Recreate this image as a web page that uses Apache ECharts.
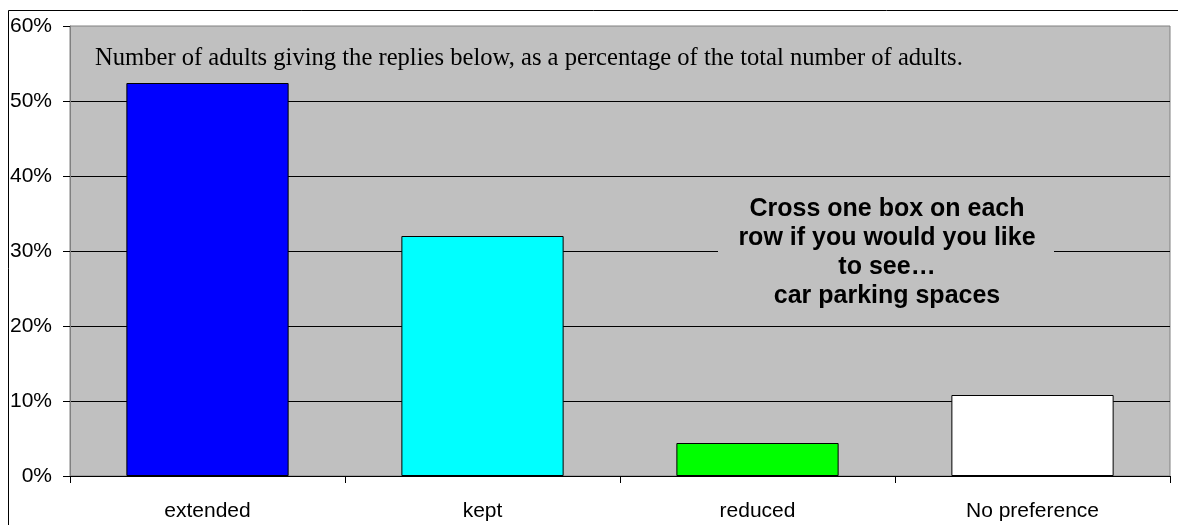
<!DOCTYPE html>
<html>
<head>
<meta charset="utf-8">
<script src="https://cdn.jsdelivr.net/npm/echarts@6/dist/echarts.min.js"></script>
<style>
  html, body { margin: 0; padding: 0; background: #fff; }
  #main { width: 1178px; height: 525px; }
</style>
</head>
<body>
<div id="main"></div>
<script>
const categories = ['extended', 'kept', 'reduced', 'No preference']
const values = [52.4, 32.0, 4.4, 10.8]
const barColors = ['#0000FF', '#00FFFF', '#00FF00', '#FFFFFF']
const yTicks = [0, 10, 20, 30, 40, 50, 60]

const noteText = 'Number of adults giving the replies below, as a percentage of the total number of adults.'
const boxText = 'Cross one box on each\nrow if you would you like\nto see…\ncar parking spaces'

var chart = echarts.init(document.getElementById('main'))
var option = {
  animation: false,
  backgroundColor: '#fff',
  grid: {
    left: 70, right: 8, top: 26, bottom: 49,
    show: true,
    backgroundColor: '#C0C0C0',
    borderColor: '#808080',
    borderWidth: 1
  },
  xAxis: {
    type: 'category',
    data: categories,
    axisLine: { lineStyle: { color: '#000', width: 1 } },
    axisTick: { show: true, alignWithLabel: false, length: 7, lineStyle: { color: '#000' } },
    axisLabel: {
      color: '#000', fontFamily: 'Liberation Sans, Arial', fontSize: 21, margin: 25
    }
  },
  yAxis: {
    type: 'value',
    min: yTicks[0],
    max: yTicks[yTicks.length - 1],
    interval: 10,
    axisLine: { show: true, lineStyle: { color: '#808080' } },
    axisTick: { show: true, length: 7, lineStyle: { color: '#000' } },
    axisLabel: {
      color: '#000', fontFamily: 'Liberation Sans, Arial', fontSize: 21, margin: 18,
      formatter: v => v + '%'
    },
    splitLine: {
      show: true,
      lineStyle: { color: '#000', width: 1 },
      showMaxLine: false
    }
  },
  series: [{
    type: 'bar',
    barWidth: '59%',
    data: values.map((v, i) => ({
      value: v,
      itemStyle: { color: barColors[i], borderColor: '#000', borderWidth: 1 }
    }))
  }],
  graphic: [
    {
      type: 'rect',
      shape: { x: 0, y: 0, width: 1200, height: 540 },
      left: 6, top: 8,
      style: { fill: 'none', stroke: '#000', lineWidth: 1 },
      silent: true
    },
    {
      type: 'text',
      left: 95, top: 46,
      style: {
        text: noteText,
        fill: '#000',
        font: '24.6px "Liberation Serif", "Times New Roman", serif'
      }
    },
    {
      type: 'rect',
      shape: { x: 718, y: 195, width: 336, height: 114 },
      style: { fill: '#C0C0C0' },
      z: 10
    },
    {
      type: 'text',
      x: 887, y: 195,
      z: 11,
      style: {
        text: boxText,
        fill: '#000',
        align: 'center',
        verticalAlign: 'top',
        lineHeight: 29,
        font: 'bold 25px "Liberation Sans", Arial, sans-serif'
      }
    }
  ]
}
option && chart.setOption(option)
</script>
</body>
</html>
